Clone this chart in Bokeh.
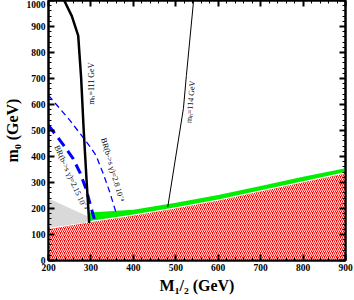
from math import pi, radians
from bokeh.plotting import figure
from bokeh.models import LinearAxis, SingleIntervalTicker, Range1d, CustomJSTickFormatter
from bokeh.core.properties import value
from bokeh.embed import file_html
from bokeh.resources import INLINE

# ---- data ----
red_x = [200, 300, 400, 500, 600, 700, 800, 900]
red_top = [120, 147, 172, 200, 230, 265, 300, 335]

green_x = [297, 400, 500, 600, 700, 800, 900]
green_top = [185, 195, 222, 252, 287, 322, 355]
green_bot = [152, 177, 205, 235, 270, 305, 340]

gray_x = [200, 296, 296, 200]
gray_y = [238, 167, 148, 125]

mh111_x = [237, 255, 270, 277, 283, 290, 296]
mh111_y = [1000, 940, 865, 700, 500, 300, 145]

mh114_x = [542, 525, 518, 481]
mh114_y = [1000, 712, 585, 205]

br28_x = [200, 250, 296, 312, 330, 345, 359]
br28_y = [635, 540, 442, 404, 330, 260, 185]

br215_x = [200, 235, 258, 275, 289, 300, 308]
br215_y = [520, 445, 392, 335, 273, 205, 160]

lab_text = ["m\u2095=111 GeV", "m\u2095=114 GeV",
            "BR(b->s \u03b3)=2.8  10\u207b\u2074", "BR(b->s \u03b3)=2.15  10\u207b\u2074"]
lab_x = [301, 535, 352, 254]
lab_y = [680, 610, 345, 315]
lab_ang = [pi / 2, radians(84.8), radians(-73.8), radians(-65.7)]

x_title = "M\u2081/\u2082 (GeV)"
y_title = "m\u2080 (GeV)"

SERIF = "Liberation Serif"

p = figure(frame_width=297, frame_height=260,
           x_range=Range1d(200, 900), y_range=Range1d(0, 1000),
           output_backend="svg", toolbar_location=None,
           min_border_left=47, min_border_right=8, min_border_top=0,
           min_border_bottom=35)
p.grid.visible = False
p.background_fill_color = "white"
p.outline_line_color = "black"
p.outline_line_width = 2

# regions
p.varea(x=red_x, y1=0, y2=red_top, fill_color="red",
        hatch_pattern="/", hatch_color="white", hatch_scale=4, hatch_weight=1.0)
p.varea(x=green_x, y1=green_bot, y2=green_top, fill_color="#00ee00")
p.patch(gray_x, gray_y, fill_color="#d9d9d9", line_color=None)

# labels on curves
p.text(x=lab_x, y=lab_y, text=lab_text, angle=lab_ang,
       text_font=value(SERIF), text_font_size="8px", text_color="black",
       text_align="center", text_baseline="middle")

# curves
p.line(br28_x, br28_y, line_color="blue", line_width=1.3, line_dash="6 4")
p.line(br215_x, br215_y, line_color="blue", line_width=3, line_dash="10 6")
p.line(mh111_x, mh111_y, line_color="black", line_width=2.5)
p.line(mh114_x, mh114_y, line_color="black", line_width=1)

def style_axis(ax, labels=True):
    ax.ticker = SingleIntervalTicker(interval=100, num_minor_ticks=5)
    ax.axis_line_width = 2
    ax.major_tick_in = 6
    ax.major_tick_out = 0
    ax.minor_tick_in = 3
    ax.minor_tick_out = 0
    ax.major_tick_line_width = 2
    ax.minor_tick_line_width = 1
    if labels:
        ax.major_label_text_font = SERIF
        ax.major_label_text_font_style = "bold"
        ax.major_label_text_font_size = "9.5px"
        ax.major_label_text_color = "black"
        ax.major_label_standoff = 3
        ax.axis_label_text_font = SERIF
        ax.axis_label_text_font_style = "bold"
        ax.axis_label_text_font_size = "16px"
        ax.axis_label_text_color = "black"
        ax.axis_label_standoff = 3
    else:
        ax.formatter = CustomJSTickFormatter(code="return ''")
        ax.major_label_standoff = 0

style_axis(p.xaxis[0])
style_axis(p.yaxis[0])
p.xaxis[0].axis_label = x_title
p.yaxis[0].axis_label = y_title
top = LinearAxis()
right = LinearAxis()
style_axis(top, False)
style_axis(right, False)
p.add_layout(top, "above")
p.add_layout(right, "right")

open("out.html", "w").write(file_html(p, INLINE))
